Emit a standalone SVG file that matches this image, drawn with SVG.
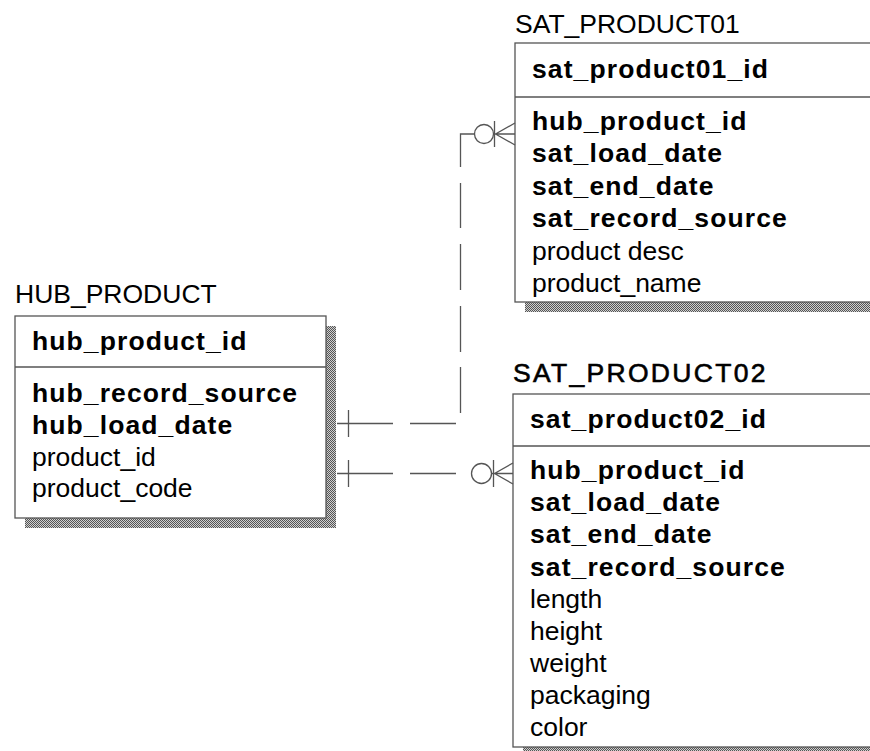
<svg xmlns="http://www.w3.org/2000/svg" width="870" height="751" viewBox="0 0 870 751">
<defs>
<pattern id="dither" width="2" height="2" patternUnits="userSpaceOnUse">
<rect width="2" height="2" fill="#d0d0d0"/>
<rect width="1" height="1" fill="#555"/>
<rect x="1" y="1" width="1" height="1" fill="#555"/>
</pattern>
<style>
.box{fill:#fff;stroke:#555;stroke-width:1.3}
.shadow{fill:url(#dither)}
.div{stroke:#555;stroke-width:1.3}
.t{font-family:"Liberation Sans",Arial,sans-serif;font-size:26.5px;fill:#000}
.b{font-family:"Liberation Sans",Arial,sans-serif;font-size:26.5px;font-weight:bold;letter-spacing:1.1px;fill:#000}
.ln{fill:none;stroke:#555;stroke-width:1.3}
</style>
</defs>
<rect width="870" height="751" fill="#fff"/>

<g id="hub_product">
<rect class="shadow" x="25" y="326" width="311" height="202"/>
<rect class="box" x="15" y="316" width="311" height="202"/>
<line class="div" x1="15" y1="367" x2="326" y2="367"/>
<text class="t" x="15" y="303">HUB_PRODUCT</text>
<text class="b" x="32" y="350">hub_product_id</text>
<text class="b" x="32" y="402">hub_record_source</text>
<text class="b" x="32" y="434">hub_load_date</text>
<text class="t" x="32" y="466">product_id</text>
<text class="t" x="32" y="497">product_code</text>
</g>

<g id="sat_product01">
<rect class="shadow" x="525" y="53" width="400" height="259"/>
<rect class="box" x="515" y="43" width="400" height="259"/>
<line class="div" x1="515" y1="97" x2="915" y2="97"/>
<text class="t" x="515" y="33">SAT_PRODUCT01</text>
<text class="b" x="532" y="78">sat_product01_id</text>
<text class="b" x="532" y="130">hub_product_id</text>
<text class="b" x="532" y="162">sat_load_date</text>
<text class="b" x="532" y="195">sat_end_date</text>
<text class="b" x="532" y="227">sat_record_source</text>
<text class="t" x="532" y="260">product desc</text>
<text class="t" x="532" y="292">product_name</text>
</g>

<g id="sat_product02">
<rect class="shadow" x="523" y="404" width="400" height="353"/>
<rect class="box" x="513" y="394" width="400" height="353"/>
<line class="div" x1="513" y1="446" x2="913" y2="446"/>
<text class="t" x="513" y="382" style="letter-spacing:2.3px;stroke:#000;stroke-width:0.6">SAT_PRODUCT02</text>
<text class="b" x="530" y="428">sat_product02_id</text>
<text class="b" x="530" y="479">hub_product_id</text>
<text class="b" x="530" y="511">sat_load_date</text>
<text class="b" x="530" y="543">sat_end_date</text>
<text class="b" x="530" y="576">sat_record_source</text>
<text class="t" x="530" y="608">length</text>
<text class="t" x="530" y="640">height</text>
<text class="t" x="530" y="672">weight</text>
<text class="t" x="530" y="704">packaging</text>
<text class="t" x="530" y="736">color</text>
</g>

<g id="connectors">
<path class="ln" d="M337,423.5 H393 M410,423.5 H456 M460.5,413 V367 M460.5,352 V306 M460.5,290 V244 M460.5,228 V183 M460.5,167 V134 H474.5"/>
<line class="ln" x1="348.5" y1="410" x2="348.5" y2="437"/>
<circle class="ln" cx="484" cy="134" r="9.5"/>
<path class="ln" d="M493.5,134 H515 M494.5,121 V147 M495.5,134 L515,123 M495.5,134 L515,145"/>

<path class="ln" d="M337,473.5 H393 M410,473.5 H456"/>
<line class="ln" x1="348.5" y1="460" x2="348.5" y2="487"/>
<circle class="ln" cx="481.5" cy="473.5" r="10"/>
<path class="ln" d="M491.5,473.5 H513 M493.5,460 V487 M494.5,473.5 L513,463 M494.5,473.5 L513,484"/>
</g>
</svg>
